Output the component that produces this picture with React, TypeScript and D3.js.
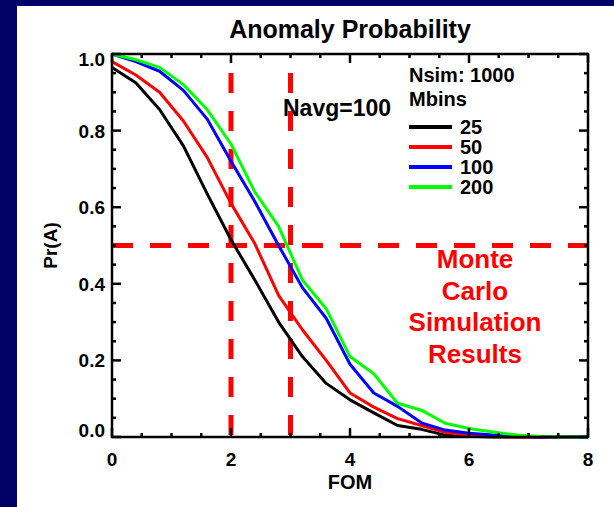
import React from "react";
import * as d3 from "d3";

const fom = [0, 0.4, 0.8, 1.2, 1.6, 2.0, 2.4, 2.8, 3.2, 3.6, 4.0, 4.4, 4.8, 5.2, 5.6, 6.0, 6.4, 6.8, 7.2, 7.6, 8.0];
const mbins25 = [0.965, 0.925, 0.855, 0.76, 0.635, 0.515, 0.41, 0.3, 0.21, 0.14, 0.097, 0.063, 0.03, 0.02, 0.005, 0.002, 0, 0, 0, 0, 0];
const mbins50 = [0.98, 0.945, 0.9, 0.825, 0.73, 0.61, 0.505, 0.37, 0.28, 0.2, 0.115, 0.078, 0.048, 0.03, 0.012, 0.005, 0.002, 0, 0, 0, 0];
const mbins100 = [1.0, 0.98, 0.955, 0.905, 0.83, 0.72, 0.615, 0.5, 0.39, 0.31, 0.19, 0.115, 0.08, 0.037, 0.018, 0.01, 0.005, 0.002, 0, 0, 0];
const mbins200 = [1.0, 0.985, 0.965, 0.92, 0.855, 0.765, 0.64, 0.55, 0.41, 0.335, 0.21, 0.165, 0.088, 0.07, 0.036, 0.022, 0.013, 0.005, 0.001, 0, 0];

const seriesLabels = ["25", "50", "100", "200"];
const seriesColors = ["#000000", "#ff0000", "#0000ff", "#00ff00"];
const seriesValues = [mbins25, mbins50, mbins100, mbins200];

const xTicks = [0, 2, 4, 6, 8];
const yTicks = [0, 0.2, 0.4, 0.6, 0.8, 1.0];
const xMinor = [0.5, 1, 1.5, 2.5, 3, 3.5, 4.5, 5, 5.5, 6.5, 7, 7.5];
const yMinor = [0.05, 0.1, 0.15, 0.25, 0.3, 0.35, 0.45, 0.5, 0.55, 0.65, 0.7, 0.75, 0.85, 0.9, 0.95];
const vLines = [2, 3];
const hLine = 0.5;
const annotation = ["Monte", "Carlo", "Simulation", "Results"];

const W = 614, H = 507;
const L = 112, R = 588, T = 54, B = 437;
const FONT = "'Liberation Sans', Arial, Helvetica, sans-serif";

export default function App() {
  const x = d3.scaleLinear().domain([0, 8]).range([L, R]);
  const y = d3.scaleLinear().domain([0, 1]).range([B, T]);
  const line = d3.line<number>().x((_, i) => x(fom[i])).y((d) => y(d));

  // end labels sit inside the frame, as in the reference
  const yLabelBaseline = (t: number) => (t === 1 ? y(t) + 12 : t === 0 ? y(t) : y(t) + 7);

  return (
    <div style={{ position: "fixed", left: 0, top: 0 }}>
      <svg width={W} height={H} style={{ display: "block" }} fontFamily={FONT} fontWeight="bold">
        <rect x={0} y={0} width={W} height={H} fill="#000066" />
        <rect x={17} y={6} width={W - 17} height={H - 6} fill="#ffffff" />

        <text x={(L + R) / 2} y={38} textAnchor="middle" fontSize={25} fill="#000">Anomaly Probability</text>

        {/* dashed reference lines */}
        {vLines.map((v) => (
          <line key={v} x1={x(v)} x2={x(v)} y1={T} y2={B} stroke="#ff0000" strokeWidth={5}
            strokeDasharray="20 18" strokeDashoffset={19} />
        ))}
        <line x1={L} x2={R} y1={y(hLine)} y2={y(hLine)} stroke="#ff0000" strokeWidth={5} strokeDasharray="21 17" />

        {/* curves */}
        {seriesValues.map((vals, i) => (
          <path key={i} d={line(vals) || ""} fill="none" stroke={seriesColors[i]} strokeWidth={3} strokeLinejoin="round" />
        ))}

        {/* frame */}
        <rect x={L} y={T} width={R - L} height={B - T} fill="none" stroke="#000" strokeWidth={2.5} />

        {/* ticks */}
        {xTicks.map((t) => (
          <g key={"xt" + t}>
            <line x1={x(t)} x2={x(t)} y1={B} y2={B - 9} stroke="#000" strokeWidth={2.5} />
            <line x1={x(t)} x2={x(t)} y1={T} y2={T + 9} stroke="#000" strokeWidth={2.5} />
            <text x={x(t)} y={466} textAnchor="middle" fontSize={19}>{d3.format("d")(t)}</text>
          </g>
        ))}
        {xMinor.map((t) => (
          <g key={"xm" + t}>
            <line x1={x(t)} x2={x(t)} y1={B} y2={B - 4} stroke="#000" strokeWidth={2.5} />
            <line x1={x(t)} x2={x(t)} y1={T} y2={T + 4} stroke="#000" strokeWidth={2.5} />
          </g>
        ))}
        {yTicks.map((t) => (
          <g key={"yt" + t}>
            <line x1={L} x2={L + 9} y1={y(t)} y2={y(t)} stroke="#000" strokeWidth={2.5} />
            <line x1={R} x2={R - 9} y1={y(t)} y2={y(t)} stroke="#000" strokeWidth={2.5} />
            <text x={105} y={yLabelBaseline(t)} textAnchor="end" fontSize={19}>{d3.format(".1f")(t)}</text>
          </g>
        ))}
        {yMinor.map((t) => (
          <g key={"ym" + t}>
            <line x1={L} x2={L + 4} y1={y(t)} y2={y(t)} stroke="#000" strokeWidth={2.5} />
            <line x1={R} x2={R - 4} y1={y(t)} y2={y(t)} stroke="#000" strokeWidth={2.5} />
          </g>
        ))}

        <text x={(L + R) / 2} y={489} textAnchor="middle" fontSize={20}>FOM</text>
        <text transform={`translate(57,${(T + B) / 2}) rotate(-90)`} textAnchor="middle" fontSize={19}>Pr(A)</text>

        {/* legend */}
        <text x={409} y={82} fontSize={20}>Nsim: 1000</text>
        <text x={409} y={106} fontSize={20}>Mbins</text>
        {seriesLabels.map((s, i) => (
          <g key={s}>
            <line x1={409} x2={452} y1={127 + i * 20} y2={127 + i * 20} stroke={seriesColors[i]} strokeWidth={4} />
            <text x={460} y={127 + i * 20 + 7} fontSize={20}>{s}</text>
          </g>
        ))}

        <text x={283} y={116} fontSize={23}>Navg=100</text>

        {annotation.map((s, i) => (
          <text key={s} x={475} y={268 + i * 31.7} textAnchor="middle" fontSize={26} fill="#ff0000">{s}</text>
        ))}
      </svg>
    </div>
  );
}
